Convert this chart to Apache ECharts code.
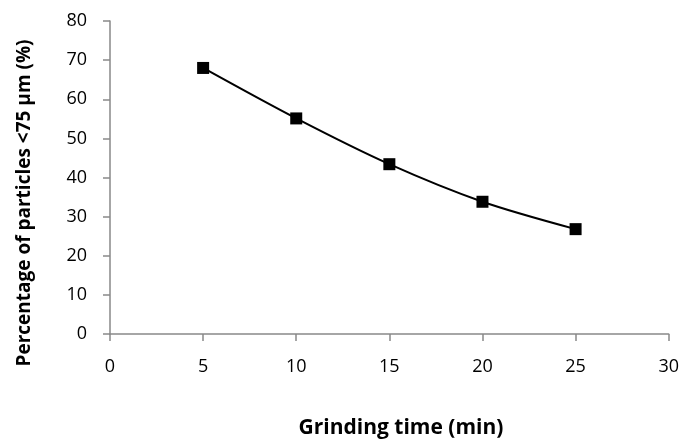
<!DOCTYPE html>
<html><head><meta charset="utf-8">
<script src="https://cdn.jsdelivr.net/npm/echarts@6/dist/echarts.min.js"></script>
<style>html,body{margin:0;padding:0;background:#fff}#c{width:682px;height:444px}</style>
</head><body><div id="c"></div>
<script>
const grindingTime = [5, 10, 15, 20, 25];
const percentFine = [68, 55.1, 43.4, 33.8, 26.8];
const xName = 'Grinding time (min)';
const yName = 'Percentage of particles <75 µm (%)';

const chart = echarts.init(document.getElementById('c'));
const font = 'Open Sans';
chart.setOption({
  animation: false,
  grid: {left: 110, right: 13, top: 21, bottom: 110},
  graphic: [
    {type: 'text', x: 401, y: 428,
     style: {text: xName, fontFamily: font, fontWeight: 'bold', fontSize: 21, fill: '#000',
             textAlign: 'center', textVerticalAlign: 'middle', align: 'center', verticalAlign: 'middle'}},
    {type: 'text', x: 25, y: 203, rotation: Math.PI / 2,
     style: {text: yName, fontFamily: font, fontWeight: 'bold', fontSize: 19, fill: '#000',
             textAlign: 'center', textVerticalAlign: 'middle', align: 'center', verticalAlign: 'middle'}}
  ],
  xAxis: {
    type: 'value', min: 0, max: 30, interval: 5,
    axisLine: {lineStyle: {color: '#898989', width: 1.5}},
    axisTick: {show: true, length: 7, lineStyle: {color: '#898989', width: 1.5}},
    axisLabel: {fontFamily: font, fontSize: 18, color: '#000', margin: 24},
    splitLine: {show: false}
  },
  yAxis: {
    type: 'value', min: 0, max: 80, interval: 10,
    axisLine: {show: true, lineStyle: {color: '#898989', width: 1.5}},
    axisTick: {show: true, length: 7, lineStyle: {color: '#898989', width: 1.5}},
    axisLabel: {fontFamily: font, fontSize: 18, color: '#000', margin: 23},
    splitLine: {show: false}
  },
  series: [{
    type: 'line', smooth: 0.3,
    data: grindingTime.map((t, i) => [t, percentFine[i]]),
    symbol: 'rect', symbolSize: 12,
    itemStyle: {color: '#000'},
    lineStyle: {color: '#000', width: 2}
  }]
});
</script></body></html>
